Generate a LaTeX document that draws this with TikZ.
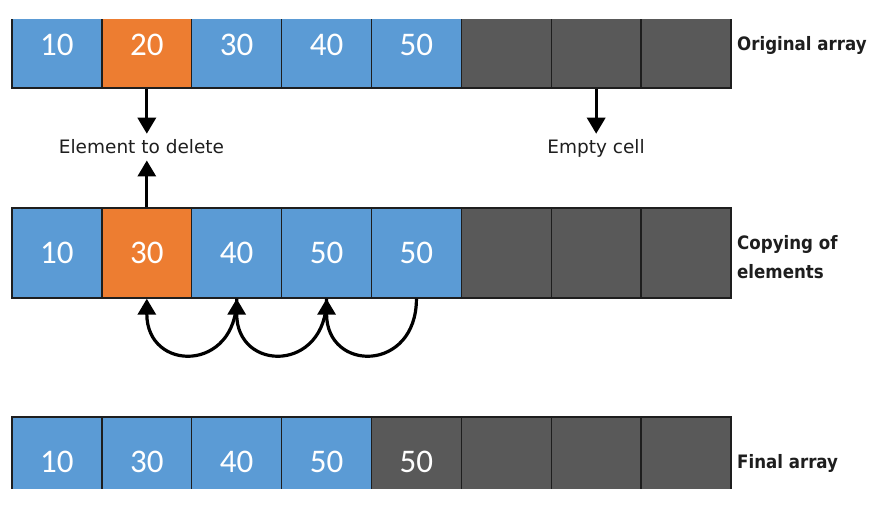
\documentclass[tikz,border=0pt]{standalone}
\usepackage{fontspec}
\setmainfont{DejaVu Sans}
\newfontfamily\numfont{Carlito}
\newfontfamily\labfont{DejaVu Sans Condensed}
\usetikzlibrary{arrows.meta}
\definecolor{cblue}{HTML}{5B9BD5}
\definecolor{corange}{HTML}{ED7D31}
\definecolor{cgray}{HTML}{595959}
\definecolor{ink}{HTML}{1E1E1E}
\begin{document}
\begin{tikzpicture}[x=1pt,y=-1pt,
  cell/.style={draw=ink, line width=1.4pt, minimum width=89.875pt, minimum height=90pt,
    inner sep=0pt, font=\numfont\fontsize{33}{33}\selectfont, text=white},
  bcell/.style={cell, fill=cblue},
  ocell/.style={cell, fill=corange},
  gcell/.style={cell, fill=cgray},
  arr/.style={line width=3.2pt, draw=black, -{Triangle[width=18pt,length=16pt]}},
  lab/.style={font=\fontsize{18.5}{22}\selectfont, text=ink, inner xsep=0pt, inner ysep=6pt, anchor=base},
  side/.style={font=\labfont\bfseries\fontsize{18.5}{29}\selectfont, text=ink, anchor=west, align=left, inner sep=0pt}]
\useasboundingbox (0,0) rectangle (892,521);

% original array (top edge cropped)
\begin{scope}
  \clip (0,20) rectangle (892,100);
  \foreach \i/\v/\s in {1/10/bcell,2/20/ocell,3/30/bcell,4/40/bcell,5/50/bcell,6/{}/gcell,7/{}/gcell,8/{}/gcell}
    \node[\s, minimum height=86pt] (t\i) at ({12+89.875*(\i-0.5)},45) {\v};
\end{scope}

% copying of elements
\foreach \i/\v/\s in {1/10/bcell,2/30/ocell,3/40/bcell,4/50/bcell,5/50/bcell,6/{}/gcell,7/{}/gcell,8/{}/gcell}
  \node[\s] (m\i) at ({12+89.875*(\i-0.5)},253) {\v};

% final array (bottom edge cropped)
\begin{scope}
  \clip (0,400) rectangle (892,488);
  \foreach \i/\v/\s in {1/10/bcell,2/30/bcell,3/40/bcell,4/50/bcell,5/50/gcell,6/{}/gcell,7/{}/gcell,8/{}/gcell}
    \node[\s] (f\i) at ({12+89.875*(\i-0.5)},462) {\v};
\end{scope}

% labels
\node[lab] (del) at (141.5,154) {Element to delete};
\node[lab] (emp) at (596,154) {Empty cell};
\node[side] (lo) at (737,45) {Original array};
\node[side] (lc) at (737,257) {Copying of\\elements};
\node[side] (lf) at (737,463) {Final array};

% arrows
\draw[arr] (t2.south) -- (t2.south |- del.north);
\draw[arr] (m2.north) -- (m2.north |- del.south);
\draw[arr] (t7.south) -- (t7.south |- emp.north);
\draw[arr] (m5.south) .. controls +(0,74) and +(0,74) .. (m4.south);
\draw[arr] (m4.south) .. controls +(0,74) and +(0,74) .. (m3.south);
\draw[arr] (m3.south) .. controls +(0,74) and +(0,74) .. (m2.south);
\end{tikzpicture}
\end{document}
